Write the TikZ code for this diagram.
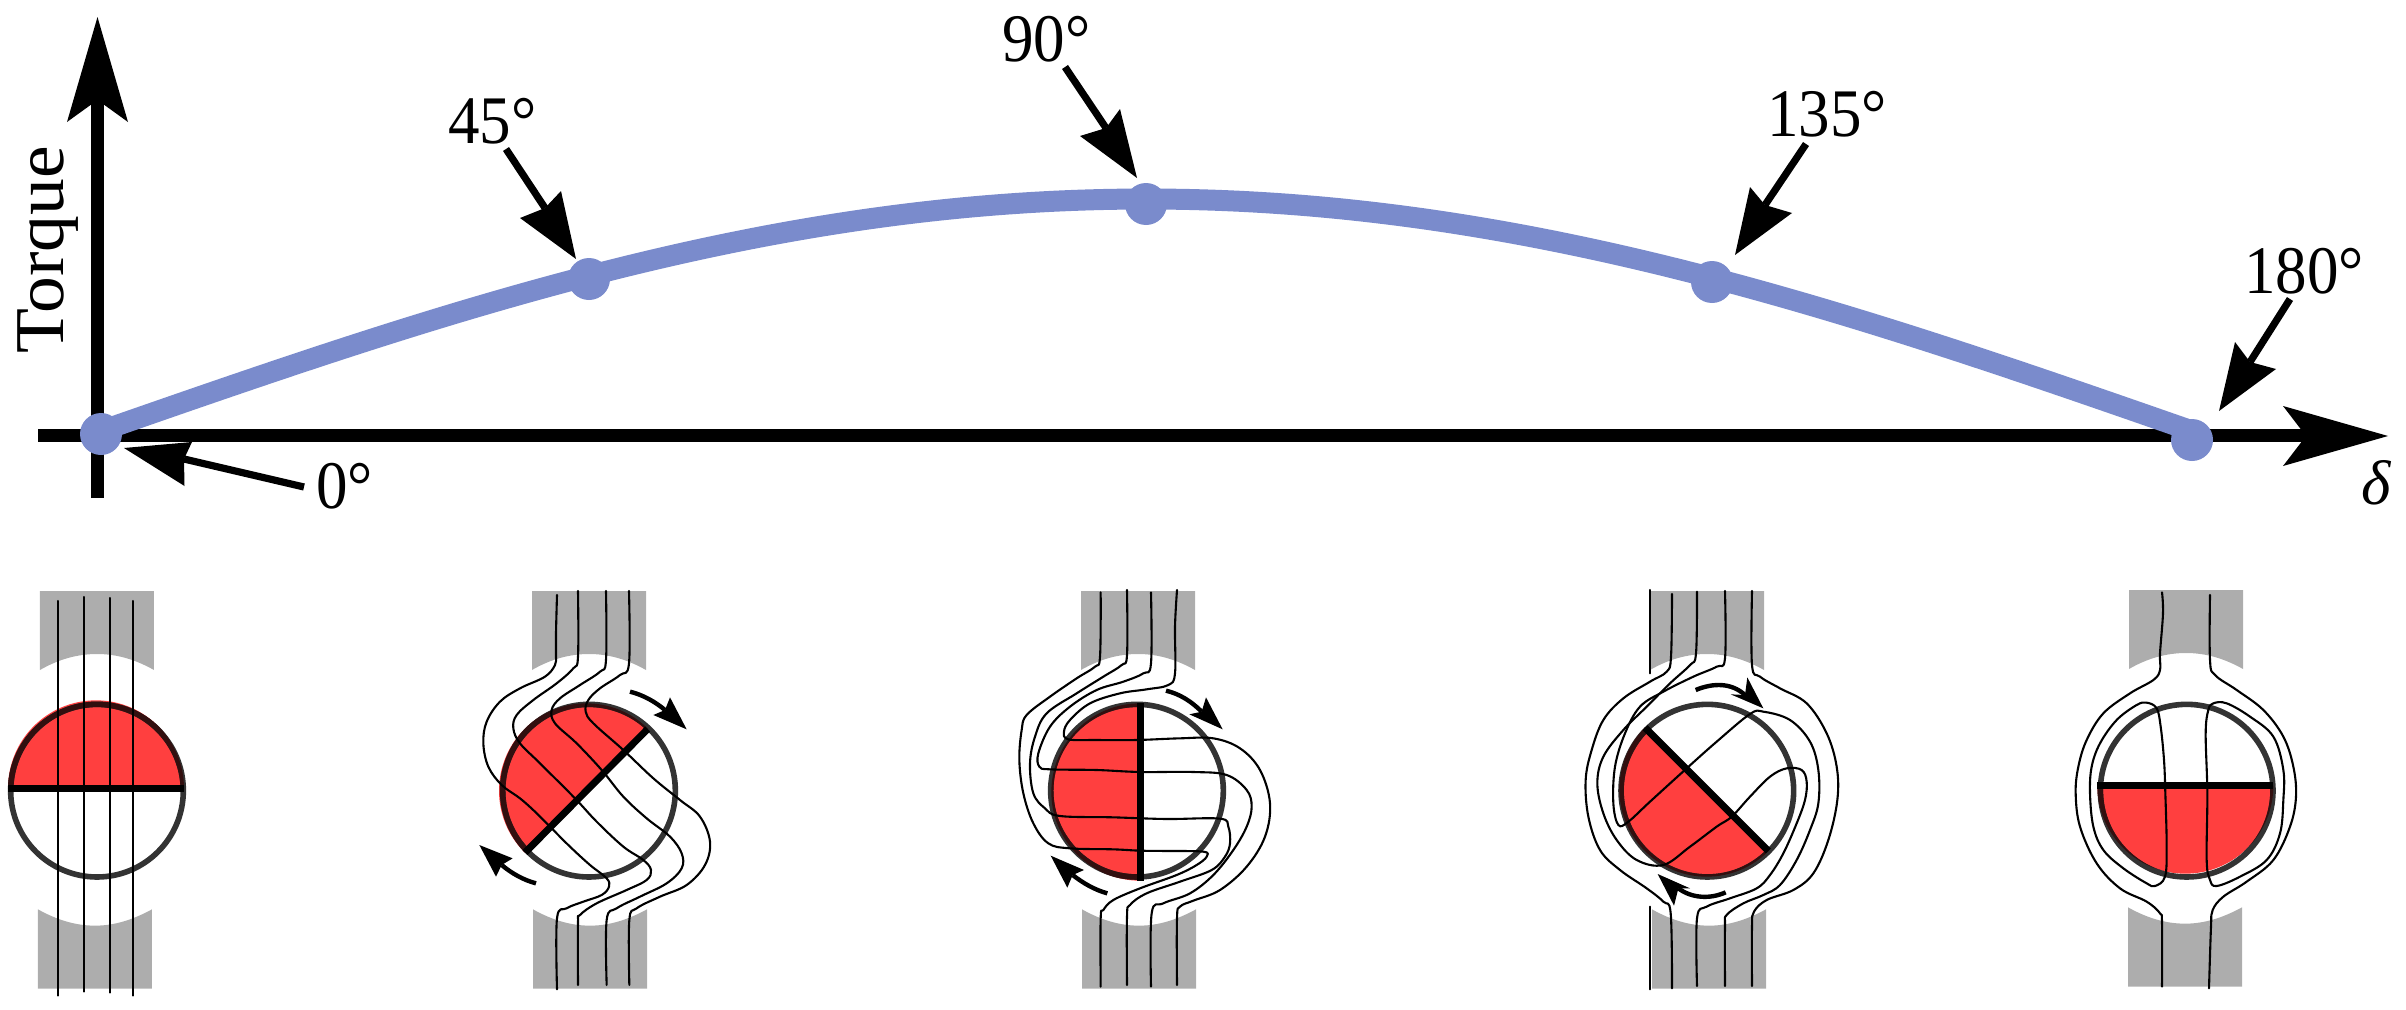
\documentclass[tikz,border=0pt]{standalone}
\usepackage{fontspec}
\setmainfont{Liberation Serif}
\definecolor{curveblue}{RGB}{122,139,204}
\definecolor{polegray}{RGB}{173,173,173}
\definecolor{rotorred}{RGB}{255,63,63}
\definecolor{rimgray}{RGB}{51,51,51}
\definecolor{rimdark}{RGB}{50,15,15}
\tikzset{
  axisline/.style={line width=12.5pt,black},
  pointerline/.style={line width=7.2pt,black},
  turnline/.style={line width=4.4pt,black},
  fieldline/.style={line width=2.1pt,black,line join=round,line cap=round},
  rotorbar/.style={line width=7pt,black},
  rim/.style={line width=5.6pt,rimgray},
  curve/.style={line width=21pt,curveblue},
  dotnode/.style={circle,fill=curveblue,inner sep=0pt,minimum size=42pt},
  anglelabel/.style={inner sep=0pt,anchor=base west,font=\fontsize{63}{70}\selectfont},
}
\newcommand{\headpoly}[4]{\fill[black] #1 -- #2 -- #3 -- #4 -- cycle;}
\newcommand{\ptr}[5]{\draw[pointerline] #1 -- #2; \headpoly{#3}{#4}{#2}{#5}}
\newcommand{\fl}[1]{\draw[fieldline] plot[smooth,tension=0.6] coordinates {#1};}
\newcommand{\flc}[1]{\draw[fieldline] plot[smooth cycle,tension=0.6] coordinates {#1};}
% top-left x, top y, bottom-left x, bottom y (bottom of the lower pole)
\newcommand{\polepair}[4]{%
  \fill[polegray] (#1,#2) -- ({#1+342},#2) -- ({#1+342},{#2+237})
    .. controls ({#1+285},{#2+205}) and ({#1+230},{#2+189}) .. ({#1+171},{#2+189})
    .. controls ({#1+112},{#2+189}) and ({#1+55},{#2+205}) .. (#1,{#2+237}) -- cycle;
  \fill[polegray] (#3,#4) -- ({#3+342},#4) -- ({#3+342},{#4-238})
    .. controls ({#3+285},{#4-207}) and ({#3+230},{#4-189}) .. ({#3+171},{#4-189})
    .. controls ({#3+112},{#4-189}) and ({#3+55},{#4-207}) .. (#3,{#4-238}) -- cycle;}
% red centre, red radius, start angle, rim centre, bar ends
\newcommand{\rotor}[6]{%
  \fill[rotorred] #1 ++(#3:#2) arc[start angle=#3,delta angle=180,radius=#2] -- cycle;
  \draw[rim] #4 circle[radius=259];
  \begin{scope}
    \clip #1 ++(#3:#2) arc[start angle=#3,delta angle=180,radius=#2] -- cycle;
    \draw[line width=5.6pt,rimdark] #4 circle[radius=259];
  \end{scope}
  \draw[rotorbar] #5 -- #6;}
\begin{document}
\begin{tikzpicture}[x=1pt,y=-1pt]
\useasboundingbox (0,0) rectangle (2406,1009);
% axes
\draw[axisline] (97.5,498) -- (97.5,100);
\headpoly{(97.5,17)}{(128,122)}{(97.5,100)}{(67,122)}
\draw[axisline] (38,435.5) -- (2306,435.5);
\headpoly{(2388,436)}{(2283,466)}{(2306,436)}{(2283,406)}
% torque curve
\draw[curve] plot[smooth,domain=101:2192,samples=80] (\x,{431-232*sin(deg(pi*(\x-101)/2091))});
\node[dotnode] (d0) at (101,434) {};
\node[dotnode] (d45) at (589,279) {};
\node[dotnode] (d90) at (1146,204) {};
\node[dotnode] (d135) at (1712,282) {};
\node[dotnode] (d180) at (2192,440) {};
% pointers
\ptr{(304,487)}{(184,459)}{(124,448)}{(184.5,486)}{(192,442)}
\ptr{(506,149)}{(545,208)}{(576,259)}{(520,218)}{(561,191)}
\ptr{(1065,67)}{(1106,128)}{(1137,178)}{(1080,136)}{(1120,109)}
\ptr{(1806,144)}{(1765,205)}{(1735,255)}{(1792,213)}{(1750,187)}
\ptr{(2290,299)}{(2250,362)}{(2219,411)}{(2276,369)}{(2235,342)}
% labels
\node[anglelabel] (l0) at (316,508) {\scalebox{1}[1.08]{0°}};
\node[anglelabel] (l45) at (448,143) {\scalebox{1}[1.08]{45°}};
\node[anglelabel] (l90) at (1002,61) {\scalebox{1}[1.08]{90°}};
\node[anglelabel] (l135) at (1767,136) {\scalebox{1}[1.08]{135°}};
\node[anglelabel] (l180) at (2244,293) {\scalebox{1}[1.08]{180°}};
\node[anglelabel] (ldelta) at (2361,504) {\itshape δ};
\node[inner sep=0pt,rotate=90,anchor=base,font=\fontsize{70}{76}\selectfont] (ltorque) at (63,250) {\scalebox{1.05}[1]{Torque}};
% machine 0 deg
\begin{scope}[shift={(0,540)},scale=1/3]
\polepair{120}{153}{114}{1346}
\rotor{(288,745)}{264}{180}{(291,752)}{(24,745)}{(552,745)}
\fl{(174,183) (174,1367)}
\fl{(252,171) (252,1355)}
\fl{(330,174) (330,1358)}
\fl{(399,183) (399,1367)}
\end{scope}
% machine 45 deg
\begin{scope}[shift={(420,540)},scale=1/3]
\polepair{336}{153}{339}{1346}
\rotor{(499,752)}{262}{135}{(507,752)}{(315,938)}{(683,567)}
\fl{(411,165) (408,280) (408,345) (405,375) (375,410) (300,445) (240,485) (200,545) (190,610) (205,680) (245,735) (300,775) (345,815) (390,860) (450,920) (510,975) (560,1015) (567,1040) (545,1065) (490,1085) (440,1105) (411,1135) (411,1348)}
\fl{(474,153) (474,350) (460,385) (410,430) (340,480) (290,525) (280,565) (300,610) (360,670) (465,775) (530,845) (610,920) (670,960) (693,990) (680,1020) (620,1050) (530,1090) (480,1125) (474,1150) (474,1335)}
\fl{(558,153) (558,360) (540,395) (480,435) (420,475) (395,510) (405,550) (470,610) (545,690) (610,770) (680,835) (750,890) (785,940) (785,985) (740,1030) (660,1070) (590,1105) (560,1140) (560,1335)}
\fl{(627,153) (627,370) (600,405) (540,445) (505,480) (497,515) (520,550) (610,630) (700,715) (780,780) (840,830) (870,905) (855,975) (800,1035) (720,1070) (650,1105) (628,1140) (628,1335)}
\draw[turnline] (630,455) .. controls (670,465) and (705,485) .. (735,510);
\headpoly{(800,568)}{(700,525)}{(735,510)}{(750,472)}
\draw[turnline] (348,1030) .. controls (310,1020) and (275,1000) .. (245,975);
\headpoly{(178,915)}{(278,955)}{(245,975)}{(228,1010)}
\end{scope}
% machine 90 deg
\begin{scope}[shift={(980,560)},scale=1/3]
\polepair{303}{93}{306}{1286}
\rotor{(480,696)}{266}{90}{(471,692)}{(480,430)}{(480,962)}
\fl{(362,97) (360,290) (345,320) (290,355) (210,410) (140,465) (125,510) (118,600) (130,700) (160,790) (205,850) (270,865) (400,868) (480,872) (560,873) (670,875) (680,890) (650,915) (590,945) (480,985) (400,1020) (370,1050) (362,1075) (362,1280)}
\fl{(441,90) (441,285) (425,315) (370,350) (290,400) (200,460) (165,530) (150,610) (160,700) (195,745) (240,768) (400,772) (560,777) (720,776) (745,800) (750,850) (735,890) (695,930) (600,965) (500,1000) (450,1035) (441,1070) (441,1275)}
\fl{(513,97) (513,310) (490,340) (430,365) (350,390) (270,440) (210,500) (175,580) (178,620) (210,628) (350,630) (480,636) (640,636) (740,645) (800,690) (815,740) (800,800) (760,870) (700,945) (630,1000) (550,1030) (515,1060) (513,1280)}
\fl{(591,90) (585,200) (585,340) (565,375) (500,388) (420,400) (330,430) (270,480) (252,515) (265,538) (350,540) (470,540) (600,535) (700,535) (780,565) (840,630) (870,730) (855,830) (800,920) (720,990) (640,1022) (600,1040) (591,1075) (591,1275)}
\draw[turnline] (558,392) .. controls (600,402) and (635,425) .. (665,455);
\headpoly{(728,508)}{(628,463)}{(665,455)}{(678,412)}
\draw[turnline] (382,1000) .. controls (345,990) and (310,970) .. (278,945);
\headpoly{(212,887)}{(312,930)}{(278,945)}{(262,983)}
\end{scope}
% machine 135 deg
\begin{scope}[shift={(1550,560)},scale=1/3]
\polepair{300}{93}{306}{1286}
\rotor{(470,688)}{262}{45}{(472,692)}{(285,503)}{(655,873)}
\fl{(300,90) (300,340)}
\fl{(300,1040) (300,1288)}
\fl{(366,102) (363,290) (350,335) (300,365) (220,415) (160,480) (125,570) (107,660) (115,770) (150,870) (210,930) (290,985) (340,1025) (362,1060) (366,1285)}
\fl{(441,95) (438,280) (420,315) (360,370) (290,440) (220,510) (160,590) (142,670) (160,760) (200,840) (260,900) (340,915) (420,860) (500,800) (545,770) (600,710) (660,650) (710,625) (755,630) (770,665) (765,720) (740,790) (700,880) (660,945) (620,985) (540,1015) (470,1040) (441,1075) (441,1278)}
\fl{(525,93) (525,295) (500,320) (430,350) (340,395) (270,440) (225,520) (195,620) (190,730) (205,795) (235,785) (300,725) (410,625) (500,545) (600,462) (640,455) (720,480) (780,545) (805,630) (805,730) (780,810) (740,900) (690,975) (640,1005) (580,1030) (530,1065) (525,1100) (525,1278)}
\fl{(606,93) (606,315) (630,350) (690,385) (770,430) (830,520) (860,620) (862,720) (835,840) (790,940) (730,990) (650,1020) (612,1055) (606,1100) (606,1278)}
\draw[turnline] (437,390) .. controls (490,368) and (545,368) .. (585,405);
\headpoly{(640,445)}{(542,403)}{(585,405)}{(592,352)}
\draw[turnline] (527,997) .. controls (480,1018) and (425,1015) .. (385,985);
\headpoly{(323,942)}{(420,985)}{(385,985)}{(372,1037)}
\end{scope}
% machine 180 deg
\begin{scope}[shift={(2040,560)},scale=1/3]
\polepair{267}{90}{264}{1280}
\rotor{(436,677)}{264}{0}{(440,692)}{(172,677)}{(700,677)}
\fl{(366,97) (369,160) (360,280) (360,330) (340,360) (270,400) (190,460) (140,540) (115,620) (107,700) (120,800) (170,910) (240,985) (320,1025) (360,1060) (366,1090) (366,1280)}
\flc{(320,428) (350,445) (362,500) (372,600) (376,700) (380,860) (375,950) (345,978) (320,970) (250,925) (190,870) (160,800) (150,700) (155,620) (180,550) (230,480) (290,435)}
\flc{(520,430) (560,430) (630,470) (700,530) (730,630) (730,720) (720,820) (680,900) (600,950) (530,978) (510,960) (500,900) (502,700) (497,520) (505,450)}
\fl{(510,105) (510,300) (525,345) (590,390) (670,450) (730,530) (760,620) (768,710) (750,800) (700,900) (620,965) (550,1010) (518,1050) (513,1100) (507,1285)}
\end{scope}
\end{tikzpicture}
\end{document}
